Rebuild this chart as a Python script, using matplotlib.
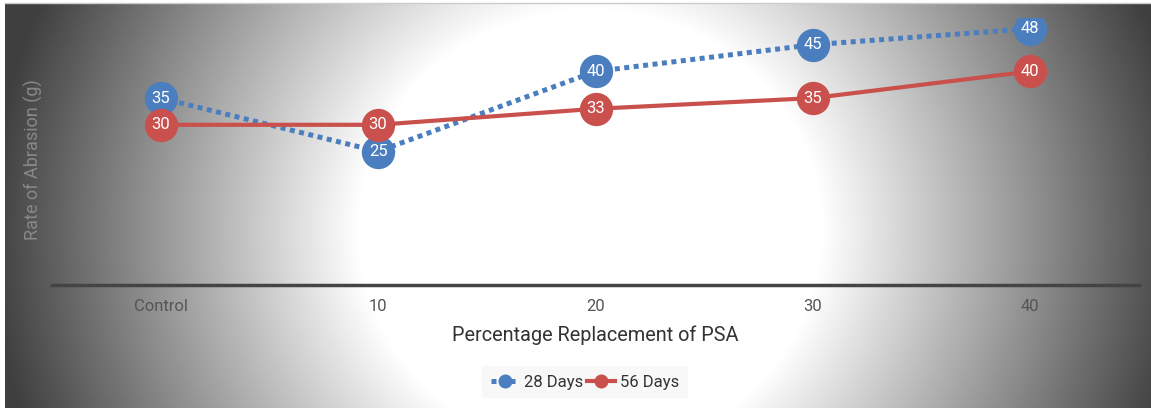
import numpy as np
import matplotlib
matplotlib.use("Agg")
import matplotlib.pyplot as plt

plt.rcParams["font.family"] = ["Roboto", "DejaVu Sans"]

categories = ["Control", "10", "20", "30", "40"]
days_28 = [35, 25, 40, 45, 48]
days_56 = [30, 30, 33, 35, 40]

W, H = 1151, 408
fig = plt.figure(figsize=(W / 100, H / 100), dpi=100)

# radial grey backdrop: white core fading to dark grey at the sides
bg = fig.add_axes([5 / W, 0, 1 - 5 / W, 1 - 3 / H], zorder=-10)
yy, xx = np.mgrid[3:H, 5:W]
r = np.hypot(xx - 590, (yy - 230) * 1.05)
shade = 255 - np.clip((r - 230) / 370, 0, 1) * 192
bg.imshow(shade, cmap="gray", vmin=0, vmax=255, aspect="auto",
          interpolation="bilinear")
bg.axis("off")
fig.add_artist(plt.Line2D([5 / W, 1], [1 - 3 / H, 1 - 3 / H],
                          color="#cccccc", lw=1, transform=fig.transFigure))

ax = fig.add_axes([52 / W, 1 - 285 / H, (1139 - 52) / W, (285 - 18) / H])
ax.patch.set_alpha(0)
x = np.arange(len(categories))

blue = "#4a7ebf"
red = "#c9504c"

ax.plot(x, days_28, color=blue, lw=3.6, linestyle=(0, (1, 0.9)),
        dash_capstyle="butt", marker="o", markersize=24,
        markeredgewidth=0, label="28 Days", zorder=3)
ax.plot(x, days_56, color=red, lw=3.0, marker="o", markersize=24,
        markeredgewidth=0, label="56 Days", zorder=4)

for xi, v in zip(x, days_28):
    ax.text(xi, v, str(v), color="white", fontsize=12, ha="center",
            va="center", zorder=5)
for xi, v in zip(x, days_56):
    ax.text(xi, v, str(v), color="white", fontsize=12, ha="center",
            va="center", zorder=6)

ax.set_xlim(-0.5, len(categories) - 0.5)
ax.set_ylim(0, 50)
ax.set_xticks(x)
ax.set_xticklabels(categories, fontsize=12, color="#555555")
ax.tick_params(axis="x", length=0, pad=10)
ax.set_yticks([])
for side in ["top", "right", "left"]:
    ax.spines[side].set_visible(False)
ax.spines["bottom"].set_color("#444444")
ax.spines["bottom"].set_linewidth(2.5)

ax.set_xlabel("Percentage Replacement of PSA", fontsize=14.3, color="#333333",
              labelpad=8)
ax.set_ylabel("Rate of Abrasion (g)", fontsize=13, color="#888888")
ax.yaxis.set_label_coords(-0.008, 0.468)

leg = fig.legend(loc="center", bbox_to_anchor=(585 / W, 1 - 382 / H),
                 ncol=2, fontsize=12, frameon=True, markerscale=0.42,
                 handlelength=1.7, handletextpad=0.3, columnspacing=0.2,
                 borderpad=0.5, fancybox=False)
leg.get_frame().set_facecolor("#f7f7f7")
leg.get_frame().set_edgecolor("none")
for t in leg.get_texts():
    t.set_color("#333333")

fig.savefig("out.png", dpi=100)
